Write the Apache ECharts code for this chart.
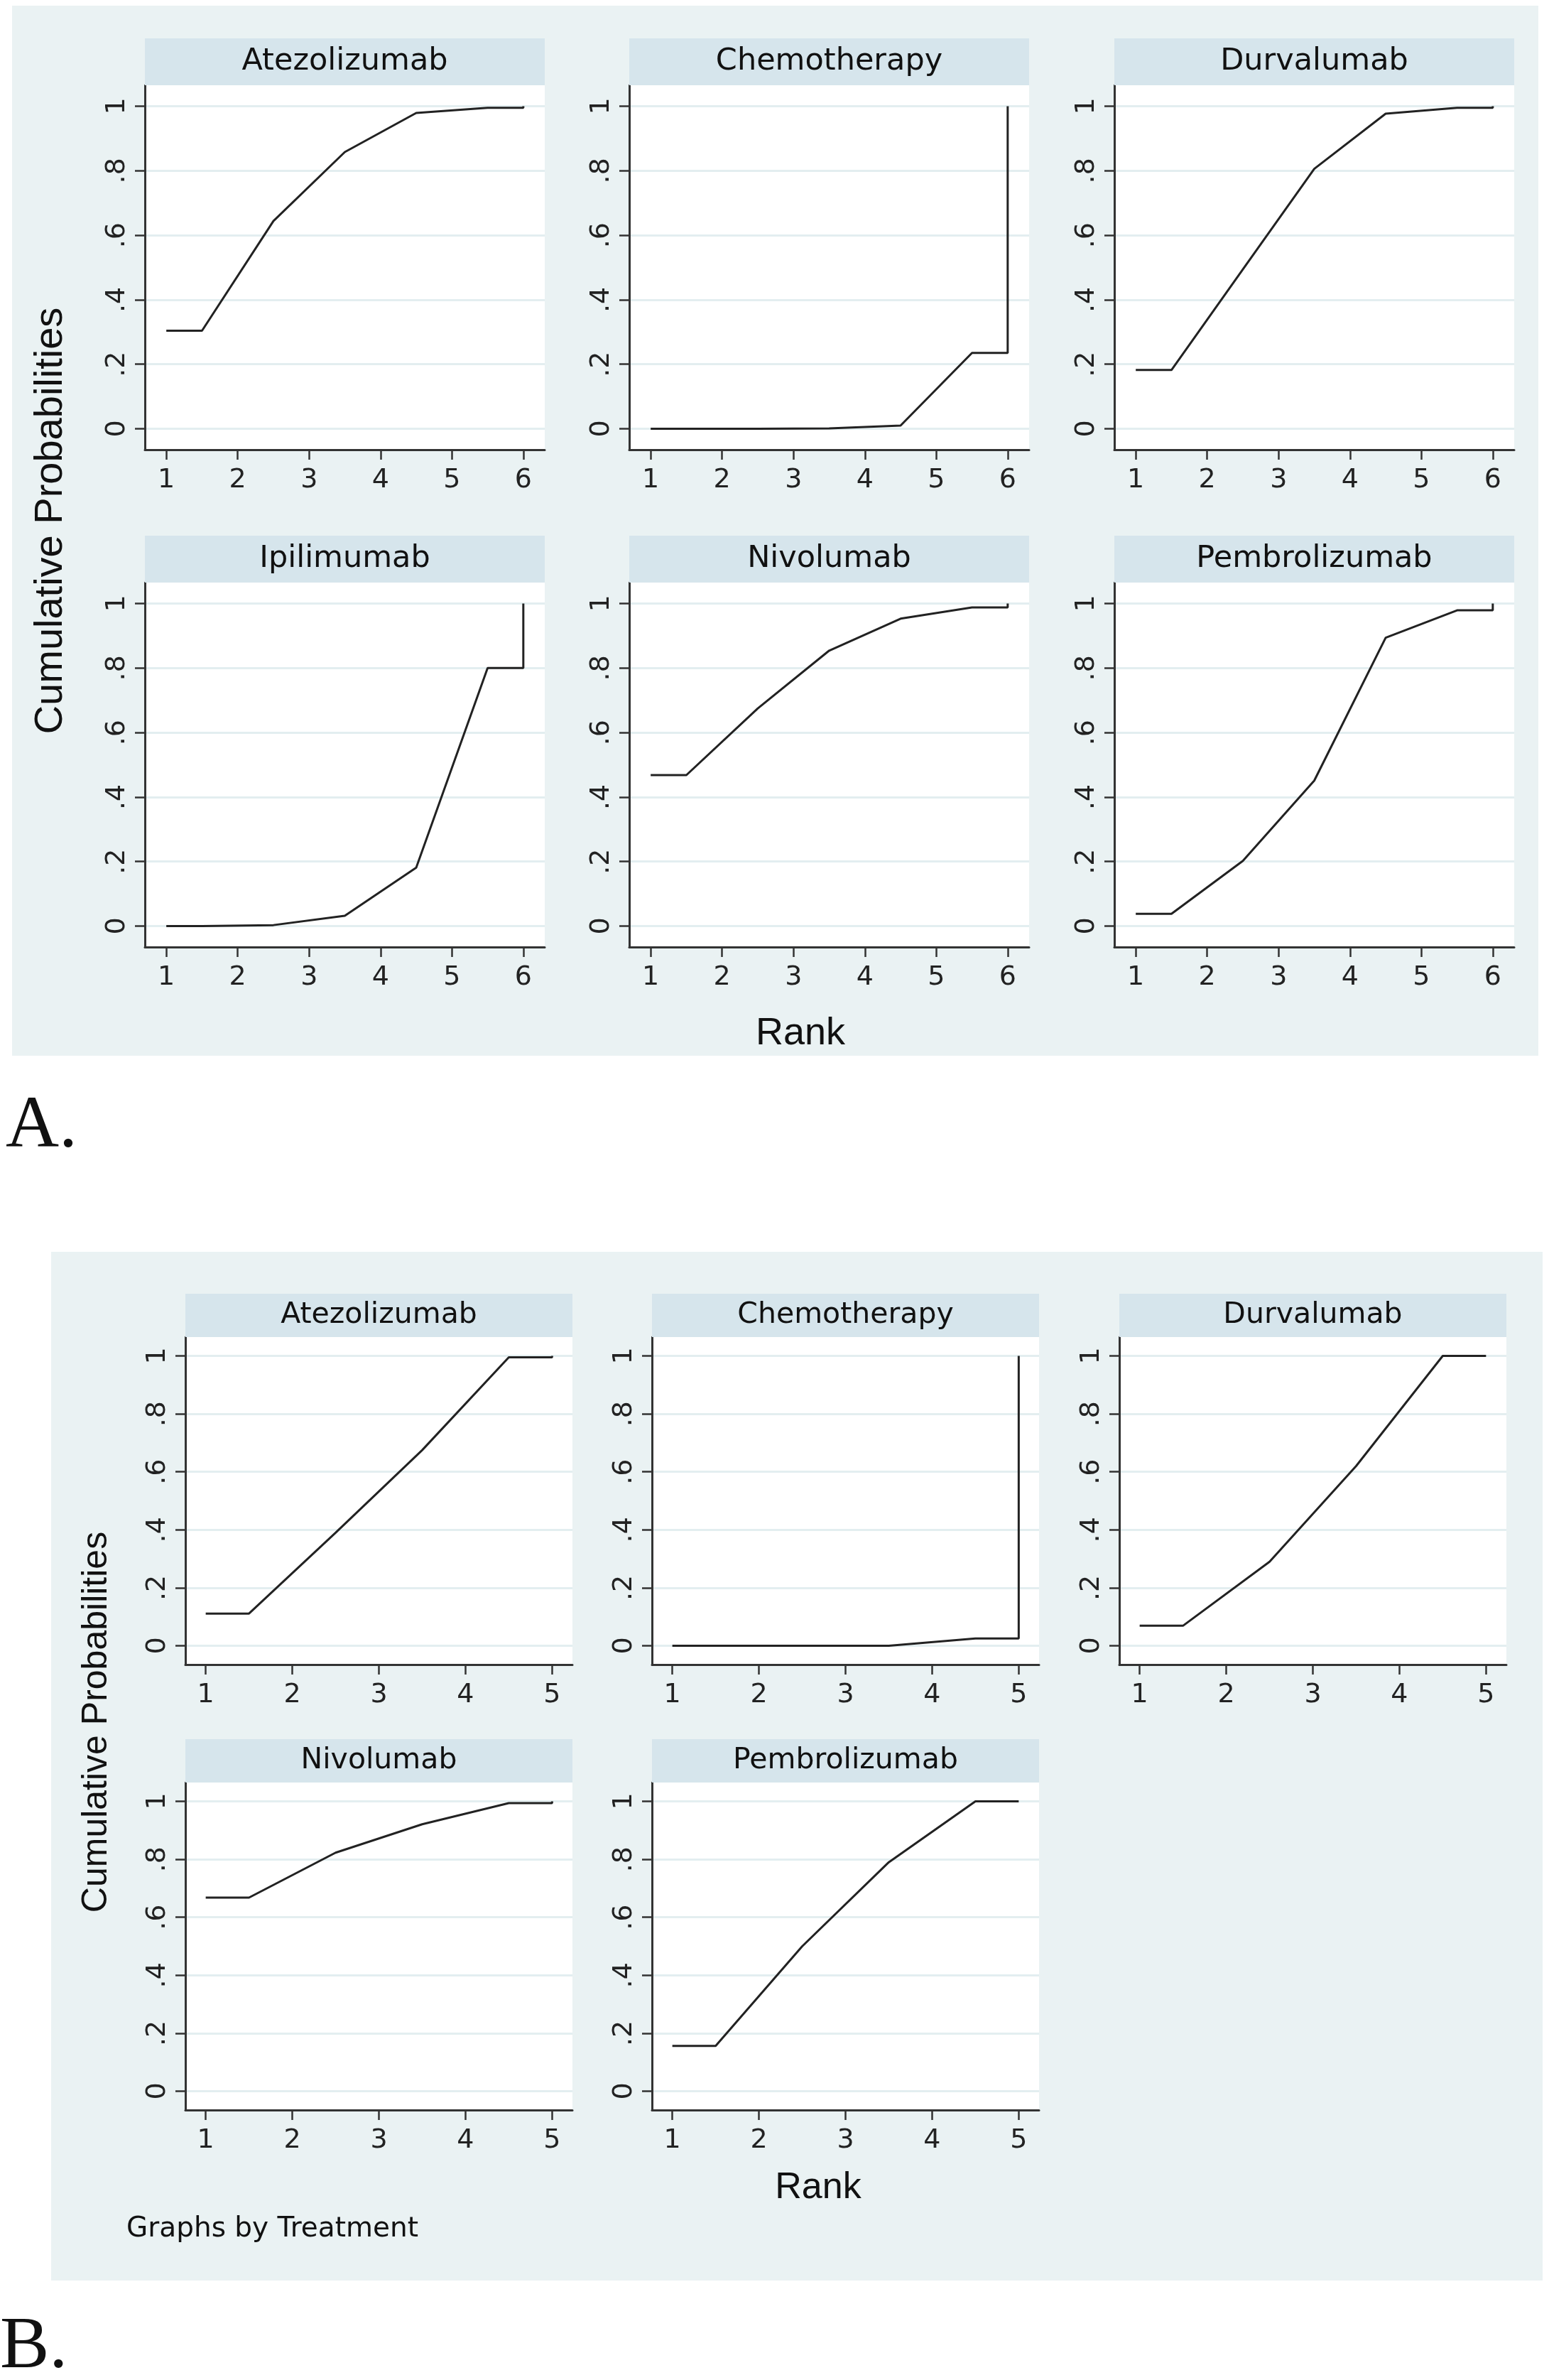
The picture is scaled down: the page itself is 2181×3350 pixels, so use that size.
<!DOCTYPE html>
<html>
<head>
<meta charset="utf-8">
<script src="https://cdn.jsdelivr.net/npm/echarts@6/dist/echarts.min.js"></script>
<style>html,body{margin:0;padding:0;background:#fff}#c{width:2181px;height:3350px}</style>
</head>
<body>
<div id="c"></div>
<script>
// ---------------- DATA ----------------
// Panel A (6 ranks)
const treatmentsA = ['Atezolizumab', 'Chemotherapy', 'Durvalumab', 'Ipilimumab', 'Nivolumab', 'Pembrolizumab'];
const ranksA = [1, 2, 3, 4, 5, 6];
const cumA_Atezolizumab  = [0.304, 0.644, 0.858, 0.979, 0.995, 1.0];
const cumA_Chemotherapy  = [0.0, 0.0, 0.001, 0.010, 0.235, 1.0];
const cumA_Durvalumab    = [0.182, 0.494, 0.806, 0.977, 0.995, 1.0];
const cumA_Ipilimumab    = [0.0, 0.003, 0.032, 0.181, 0.800, 1.0];
const cumA_Nivolumab     = [0.468, 0.675, 0.854, 0.953, 0.988, 1.0];
const cumA_Pembrolizumab = [0.038, 0.202, 0.451, 0.894, 0.979, 1.0];

// Panel B (5 ranks)
const treatmentsB = ['Atezolizumab', 'Chemotherapy', 'Durvalumab', 'Nivolumab', 'Pembrolizumab'];
const ranksB = [1, 2, 3, 4, 5];
const cumB_Atezolizumab  = [0.111, 0.390, 0.675, 0.995, 1.0];
const cumB_Chemotherapy  = [0.0, 0.0, 0.0, 0.025, 1.0];
const cumB_Durvalumab    = [0.069, 0.290, 0.620, 1.0, 1.0];
const cumB_Nivolumab     = [0.668, 0.823, 0.921, 0.994, 1.0];
const cumB_Pembrolizumab = [0.156, 0.500, 0.790, 1.0, 1.0];

// Axis ticks
const yTickValues = [0, 0.2, 0.4, 0.6, 0.8, 1];
const yTickLabels = ['0', '.2', '.4', '.6', '.8', '1'];

const valuesA = [cumA_Atezolizumab, cumA_Chemotherapy, cumA_Durvalumab, cumA_Ipilimumab, cumA_Nivolumab, cumA_Pembrolizumab];
const valuesB = [cumB_Atezolizumab, cumB_Chemotherapy, cumB_Durvalumab, cumB_Nivolumab, cumB_Pembrolizumab];

// ---------------- LAYOUT / STYLE ----------------
const C_BG = '#EAF2F3', C_STRIP = '#D6E5EC', C_GRID = '#E3EEF0', C_INK = '#222222', C_AXIS = '#333333';

const layoutA = { colLeft: [204, 886, 1569], width: 563, plotTop: [120, 820], plotH: 513, stripH: 66,
                  xMin: 0.7, xMax: 6.3, stripFont: 43, ranks: ranksA, names: treatmentsA, vals: valuesA };
const layoutB = { colLeft: [261, 918, 1576], width: 545, plotTop: [1882, 2509], plotH: 461, stripH: 61,
                  xMin: 0.765, xMax: 5.235, stripFont: 41, ranks: ranksB, names: treatmentsB, vals: valuesB };

// Stata rank-plot path: flat to 1.5, midpoints, flat to n, then jump to final value
function stepPoints(ranks, c) {
  const n = ranks.length;
  const pts = [[ranks[0], c[0]], [ranks[0] + 0.5, c[0]]];
  for (let k = 1; k <= n - 2; k++) pts.push([ranks[k] + 0.5, c[k]]);
  pts.push([ranks[n - 1], c[n - 2]]);
  pts.push([ranks[n - 1], c[n - 1]]);
  return pts;
}

function yLabel(v) {
  for (let i = 0; i < yTickValues.length; i++) if (Math.abs(yTickValues[i] - v) < 1e-6) return yTickLabels[i];
  return '';
}

const grids = [], xAxes = [], yAxes = [], series = [], graphics = [];

// Backgrounds
graphics.push({ type: 'rect', z: -100, shape: { x: 17, y: 8, width: 2149, height: 1478 }, style: { fill: C_BG } });
graphics.push({ type: 'rect', z: -100, shape: { x: 72, y: 1762, width: 2100, height: 1448 }, style: { fill: C_BG } });

function addPanels(L) {
  L.names.forEach((name, i) => {
    const row = Math.floor(i / 3), col = i % 3;
    const left = L.colLeft[col], top = L.plotTop[row];
    const idx = grids.length;
    grids.push({ left: left, top: top, width: L.width, height: L.plotH, show: true,
                 backgroundColor: '#ffffff', borderWidth: 0, containLabel: false });
    xAxes.push({
      gridIndex: idx, type: 'value', min: L.xMin, max: L.xMax,
      axisLine: { show: true, onZero: false, lineStyle: { color: C_AXIS, width: 3 } },
      axisTick: { show: true, length: 14, customValues: L.ranks, lineStyle: { color: C_AXIS, width: 2.5 } },
      axisLabel: { show: true, customValues: L.ranks, fontSize: 38, fontFamily: 'DejaVu Sans', color: C_INK, margin: 24 },
      splitLine: { show: false }
    });
    yAxes.push({
      gridIndex: idx, type: 'value', min: -0.065, max: 1.065,
      axisLine: { show: true, onZero: false, lineStyle: { color: C_AXIS, width: 3 } },
      axisTick: { show: true, length: 14, customValues: yTickValues, lineStyle: { color: C_AXIS, width: 2.5 } },
      axisLabel: { show: true, customValues: yTickValues, rotate: 90, formatter: yLabel,
                   fontSize: 38, fontFamily: 'DejaVu Sans', color: C_INK, margin: 20 },
      splitLine: { show: true, lineStyle: { color: C_GRID, width: 3 } }
    });
    series.push({
      type: 'line', xAxisIndex: idx, yAxisIndex: idx, data: stepPoints(L.ranks, L.vals[i]),
      showSymbol: false, symbol: 'none', silent: true, z: 5,
      lineStyle: { color: C_INK, width: 3 }
    });
    // strip header
    graphics.push({ type: 'rect', z: 10, shape: { x: left, y: top - L.stripH, width: L.width, height: L.stripH },
                    style: { fill: C_STRIP } });
    graphics.push({ type: 'text', z: 11, x: left + L.width / 2, y: top - L.stripH / 2,
                    style: { text: name, fontSize: L.stripFont, fontFamily: 'DejaVu Sans', fill: '#111',
                             align: 'center', verticalAlign: 'middle' } });
  });
}
addPanels(layoutA);
addPanels(layoutB);

// Titles and labels
function txt(t, x, y, size, family, opts) {
  graphics.push(Object.assign({ type: 'text', z: 11, x: x, y: y,
    style: { text: t, fontSize: size, fontFamily: family, fill: '#111', align: 'center', verticalAlign: 'middle' } }, opts || {}));
}
txt('Rank', 1127, 1455, 54, 'Liberation Sans');
txt('Cumulative Probabilities', 72, 733, 56, 'Liberation Sans', { rotation: Math.PI / 2 });
txt('Rank', 1152, 3080, 52, 'Liberation Sans');
txt('Cumulative Probabilities', 136, 2424, 50, 'Liberation Sans', { rotation: Math.PI / 2 });
graphics.push({ type: 'text', z: 11, x: 178, y: 3138,
  style: { text: 'Graphs by Treatment', fontSize: 39, fontFamily: 'DejaVu Sans', fill: '#111', align: 'left', verticalAlign: 'middle' } });
graphics.push({ type: 'text', z: 11, x: 8, y: 1587,
  style: { text: 'A.', fontSize: 104, fontFamily: 'Liberation Serif', fill: '#111', align: 'left', verticalAlign: 'middle' } });
graphics.push({ type: 'text', z: 11, x: 0, y: 3305,
  style: { text: 'B.', fontSize: 104, fontFamily: 'Liberation Serif', fill: '#111', align: 'left', verticalAlign: 'middle' } });

const chart = echarts.init(document.getElementById('c'), null, { renderer: 'canvas', width: 2181, height: 3350 });
chart.setOption({
  backgroundColor: '#ffffff',
  animation: false,
  grid: grids,
  xAxis: xAxes,
  yAxis: yAxes,
  series: series,
  graphic: { elements: graphics }
});
</script>
</body>
</html>
